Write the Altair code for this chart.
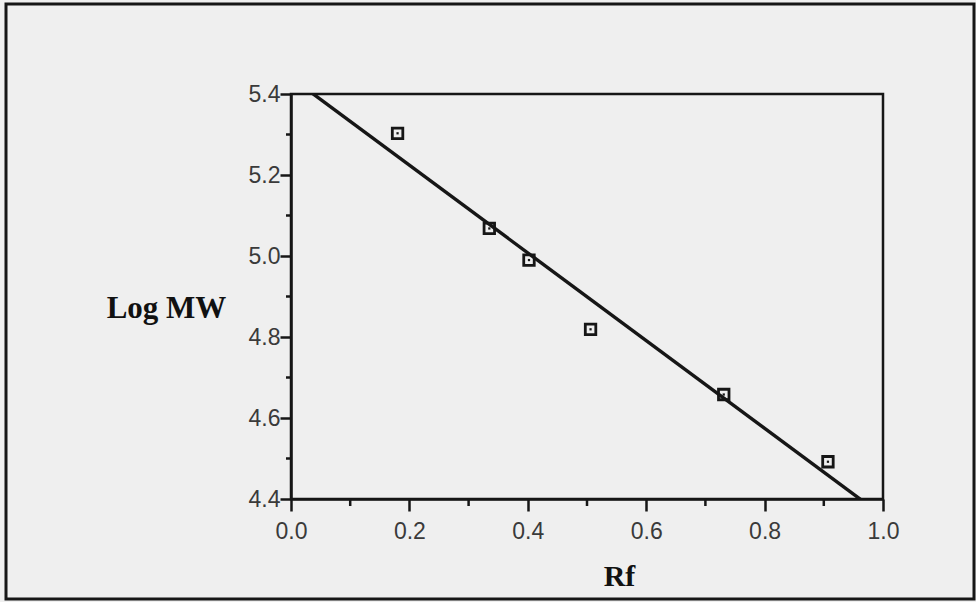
import altair as alt
import pandas as pd

# Data
rf = [0.18, 0.335, 0.402, 0.506, 0.731, 0.907]
logmw = [5.303, 5.068, 4.990, 4.819, 4.658, 4.492]

x_major = [0.0, 0.2, 0.4, 0.6, 0.8, 1.0]
x_minor = [0.1, 0.3, 0.5, 0.7, 0.9]
y_major = [4.4, 4.6, 4.8, 5.0, 5.2, 5.4]
y_minor = [4.5, 4.7, 4.9, 5.1, 5.3]

W, H = 592, 405
INK = "#161616"
BG = "#efefef"

df = pd.DataFrame({"rf": rf, "logmw": logmw})
xs = alt.Scale(domain=[0, 1], nice=False, zero=False)
ys = alt.Scale(domain=[4.4, 5.4], nice=False, zero=False)

x_axis = alt.Axis(values=x_major, format=".1f", tickSize=12, tickWidth=2.5, tickColor=INK,
                  domainColor=INK, domainWidth=2.5, labelFontSize=23, labelFont="Liberation Sans",
                  labelColor="#3a3a3a", labelPadding=9, labelFlush=False, labelOverlap=False,
                  grid=False, title="Rf", titleFont="Liberation Serif", titleFontSize=30,
                  titleFontWeight="bold", titleColor="#111", titleX=328, titleY=86,
                  titleBaseline="alphabetic", titleAlign="center")
y_axis = alt.Axis(values=y_major, format=".1f", tickSize=11, tickWidth=2.5, tickColor=INK,
                  domainColor=INK, domainWidth=2.5, labelFontSize=23, labelFont="Liberation Sans",
                  labelColor="#3a3a3a", labelPadding=0, labelFlush=False, labelOverlap=False,
                  grid=False, title="Log MW", titleFont="Liberation Serif", titleFontSize=31,
                  titleFontWeight="bold", titleColor="#111", titleAngle=0, titleX=-125,
                  titleY=223, titleBaseline="alphabetic", titleAlign="center")

base = alt.Chart(df)
enc = dict(x=alt.X("rf:Q", scale=xs, axis=x_axis), y=alt.Y("logmw:Q", scale=ys, axis=y_axis))

points = base.mark_square(size=110, filled=False, stroke=INK, strokeWidth=2.8, opacity=1).encode(**enc)
dots = base.mark_square(size=5, filled=True, color=INK, opacity=1).encode(**enc)
fit = base.transform_regression("rf", "logmw", extent=[0, 1]).mark_line(
    color=INK, strokeWidth=3.4, clip=True
).encode(**enc)

xminor = alt.Chart(pd.DataFrame({"rf": x_minor})).mark_rule(color=INK, strokeWidth=2.5).encode(
    x=alt.X("rf:Q", scale=xs, axis=x_axis), y=alt.value(H), y2=alt.value(H + 7)
)
yminor = alt.Chart(pd.DataFrame({"logmw": y_minor})).mark_rule(color=INK, strokeWidth=2.5).encode(
    y=alt.Y("logmw:Q", scale=ys, axis=y_axis), x=alt.value(-5), x2=alt.value(0)
)

frame = alt.Chart(pd.DataFrame({"a": [0]})).mark_rect(
    fill=None, stroke=INK, strokeWidth=3
).encode(x=alt.value(-285), x2=alt.value(683), y=alt.value(-90), y2=alt.value(505))

chart = alt.layer(fit, points, dots, xminor, yminor, frame).properties(
    width=W, height=H,
    autosize=alt.AutoSizeParams(type="none"),
    padding={"left": 291, "top": 94, "right": 93, "bottom": 103},
    background=BG,
).configure_view(stroke=INK, strokeWidth=2.5, fill=BG)

chart.save("out.html", embed_options={"renderer": "svg", "actions": False})
